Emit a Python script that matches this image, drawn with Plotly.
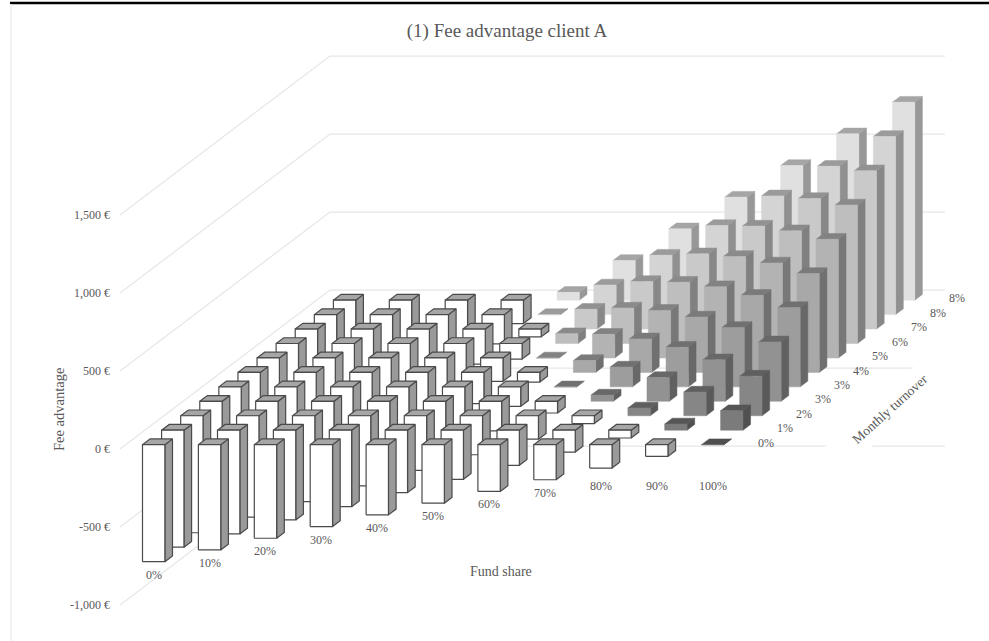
import plotly.graph_objects as go

# Fund share along the front edge, monthly turnover into the depth of the chart
fund_share = ["0%", "10%", "20%", "30%", "40%", "50%", "60%", "70%", "80%", "90%", "100%"]
turnover = ["0%", "1%", "2%", "3%", "3%", "4%", "5%", "6%", "7%", "8%", "8%"]

# Fee advantage in euro, one list per turnover level
fee_t00 = [-750, -675, -600, -525, -450, -375, -300, -225, -150, -75, 0]
fee_t01 = [-750, -665, -575, -490, -400, -315, -225, -140, -50, 40, 125]
fee_t02 = [-750, -650, -550, -450, -350, -250, -150, -50, 50, 152, 254]
fee_t03 = [-750, -640, -525, -415, -300, -190, -75, 40, 152, 266, 381]
fee_t04 = [-750, -625, -500, -375, -250, -125, 0, 127, 254, 381, 508]
fee_t05 = [-750, -612, -475, -337, -200, -62, 76, 215, 355, 494, 634]
fee_t06 = [-750, -600, -450, -300, -150, 0, 152, 305, 457, 609, 761]
fee_t07 = [-750, -588, -425, -262, -100, 63, 228, 393, 558, 723, 888]
fee_t08 = [-750, -575, -400, -225, -50, 127, 305, 482, 660, 837, 1015]
fee_t09 = [-750, -562, -375, -187, 0, 190, 381, 571, 761, 951, 1142]
fee_t10 = [-750, -550, -350, -150, 50, 254, 457, 660, 863, 1066, 1269]
fee_rows = [fee_t00, fee_t01, fee_t02, fee_t03, fee_t04, fee_t05,
            fee_t06, fee_t07, fee_t08, fee_t09, fee_t10]

axis_values = [-1000, -500, 0, 500, 1000, 1500]
axis_labels = ["-1,000 €", "-500 €", "0 €", "500 €", "1,000 €", "1,500 €"]

# Series shades, front to back: (front, top, side)
shades = [
    ("#6f6f6f", "#4f4f4f", "#4a4a4a"), ("#7b7b7b", "#565656", "#505050"),
    ("#868686", "#5f5f5f", "#595959"), ("#929292", "#686868", "#606060"),
    ("#9d9d9d", "#707070", "#686868"), ("#a8a8a8", "#7a7a7a", "#707070"),
    ("#b3b3b3", "#828282", "#787878"), ("#bebebe", "#8a8a8a", "#808080"),
    ("#c9c9c9", "#929292", "#888888"), ("#d4d4d4", "#9b9b9b", "#909090"),
    ("#e0e0e0", "#a5a5a5", "#989898"),
]
NEG_FRONT, NEG_TOP, NEG_SIDE, NEG_EDGE = "#ffffff", "#a6a6a6", "#9a9a9a", "#4a4a4a"
GRID = "#e6e6e6"
TEXT = "#595959"
FONT = "Liberation Serif"

WIDTH, HEIGHT = 989, 641
COL_PX = 55.9            # pixels per fund-share category
EUR_PX = 0.156           # pixels per euro
LEFT_PX = 120            # where the first category starts
ZERO_PX = 449            # height of 0 € on the front edge
ROW_DX = 19.09 / COL_PX  # horizontal shift of one turnover step, in categories
ROW_DY = 14.45 / EUR_PX  # vertical shift of one turnover step, in euro
GAP = 0.3                # free space on each side of a bar inside its cell
N_COL, N_ROW = len(fund_share), len(turnover)


def project(col, row, value):
    """Oblique projection of a point of the chart onto the 2D axes."""
    return col + row * ROW_DX, value + row * ROW_DY


def polygons(faces):
    xs, ys = [], []
    for face in faces:
        pts = [project(*p) for p in face]
        pts.append(pts[0])
        xs += [p[0] for p in pts] + [None]
        ys += [p[1] for p in pts] + [None]
    return xs, ys


def box_faces(col, row, low, high):
    c0, c1 = col + GAP, col + 1 - GAP
    r0, r1 = row + GAP, row + 1 - GAP
    front = [(c0, r0, low), (c1, r0, low), (c1, r0, high), (c0, r0, high)]
    top = [(c0, r0, high), (c1, r0, high), (c1, r1, high), (c0, r1, high)]
    side = [(c1, r0, low), (c1, r1, low), (c1, r1, high), (c1, r0, high)]
    return front, top, side


def add_faces(fig, faces, fill, edge):
    if not faces:
        return
    xs, ys = polygons(faces)
    fig.add_trace(go.Scatter(
        x=xs, y=ys, mode="lines", fill="toself", fillcolor=fill,
        line=dict(color=edge if edge else fill, width=1.2 if edge else 0.5),
        hoverinfo="skip", showlegend=False,
    ))


def paper_x(px):
    return (px - LEFT_PX) / (WIDTH - LEFT_PX)


def paper_y(py):
    return 1 - py / HEIGHT


fig = go.Figure()

# Side wall and back wall gridlines
for v in axis_values:
    a = project(0, 0, v)
    b = project(0, N_ROW, v)
    c = project(N_COL, N_ROW, v)
    fig.add_trace(go.Scatter(
        x=[a[0], b[0], c[0]], y=[a[1], b[1], c[1]], mode="lines",
        line=dict(color=GRID, width=1.2), hoverinfo="skip", showlegend=False,
    ))

# Bars, painted from the back row to the front row
for row in range(N_ROW - 1, -1, -1):
    front_col, top_col, side_col = shades[row]
    neg_front, neg_top, neg_side = [], [], []
    pos_front, pos_top, pos_side = [], [], []
    for col, val in enumerate(fee_rows[row]):
        f, t, s = box_faces(col, row, min(val, 0), max(val, 0))
        if val < 0:
            neg_front.append(f)
            neg_top.append(t)
            neg_side.append(s)
        else:
            pos_front.append(f)
            pos_top.append(t)
            pos_side.append(s)
    add_faces(fig, pos_side, side_col, None)
    add_faces(fig, pos_top, top_col, None)
    add_faces(fig, pos_front, front_col, None)
    add_faces(fig, neg_side, NEG_SIDE, NEG_EDGE)
    add_faces(fig, neg_top, NEG_TOP, NEG_EDGE)
    add_faces(fig, neg_front, NEG_FRONT, NEG_EDGE)

annotations = [
    # The turnover title keeps a white plate that interrupts the gridlines
    dict(x=paper_x(890), y=paper_y(409), xref="paper", yref="paper", xanchor="center", yanchor="middle",
         text="Monthly turnover", textangle=-42, showarrow=False, bgcolor="#ffffff",
         width=148, height=30, borderpad=0, font=dict(family=FONT, size=13.5, color=TEXT)),
    dict(x=paper_x(59), y=paper_y(410), xref="paper", yref="paper", xanchor="center", yanchor="middle",
         text="Fee advantage", textangle=-90, showarrow=False,
         font=dict(family=FONT, size=14.5, color=TEXT)),
    dict(x=paper_x(501), y=paper_y(571), xref="paper", yref="paper", xanchor="center", yanchor="middle",
         text="Fund share", showarrow=False, font=dict(family=FONT, size=14, color=TEXT)),
]

# Fund-share labels hang under the front row of bars
LABEL_FLOOR = -181
for col, label in enumerate(fund_share):
    x, y = project(col + 0.5, GAP, min(fee_t00[col], LABEL_FLOOR))
    annotations.append(dict(x=x, y=y, yshift=-13, text=label, xref="x", yref="y", showarrow=False,
                            font=dict(family=FONT, size=12, color=TEXT)))

# Turnover labels run along the right edge of the floor
for row, label in enumerate(turnover):
    x, y = project(N_COL, row + 0.5, 0)
    annotations.append(dict(x=x, y=y, xshift=21.5, yshift=-1, text=label, xref="x", yref="y", showarrow=False,
                            font=dict(family=FONT, size=12, color=TEXT)))

span_x = (WIDTH - LEFT_PX) / COL_PX
fig.update_layout(
    width=WIDTH, height=HEIGHT,
    margin=dict(l=LEFT_PX, r=0, t=0, b=0),
    paper_bgcolor="#ffffff", plot_bgcolor="#ffffff",
    showlegend=False,
    title=dict(text="(1) Fee advantage client A", x=507 / WIDTH, xanchor="center",
               y=1 - 30 / HEIGHT, yanchor="middle",
               font=dict(family=FONT, size=19, color=TEXT)),
    xaxis=dict(range=[0, span_x], visible=False, fixedrange=True),
    yaxis=dict(range=[(ZERO_PX - HEIGHT) / EUR_PX, ZERO_PX / EUR_PX], tickmode="array",
               tickvals=axis_values, ticktext=axis_labels, showgrid=False, zeroline=False,
               showline=False, ticks="", ticklabelstandoff=9, fixedrange=True,
               tickfont=dict(family=FONT, size=12, color=TEXT)),
    annotations=annotations,
    shapes=[
        # Rule above the panel and the panel's faint left border
        dict(type="line", xref="paper", yref="paper",
             x0=paper_x(10), x1=1, y0=paper_y(3), y1=paper_y(3),
             line=dict(color="#000000", width=2.5)),
        dict(type="line", xref="paper", yref="paper",
             x0=paper_x(11), x1=paper_x(11), y0=0, y1=paper_y(4),
             line=dict(color="#eeeeee", width=1.5)),
    ],
)

fig.write_html("out.html", config=dict(displayModeBar=False))
